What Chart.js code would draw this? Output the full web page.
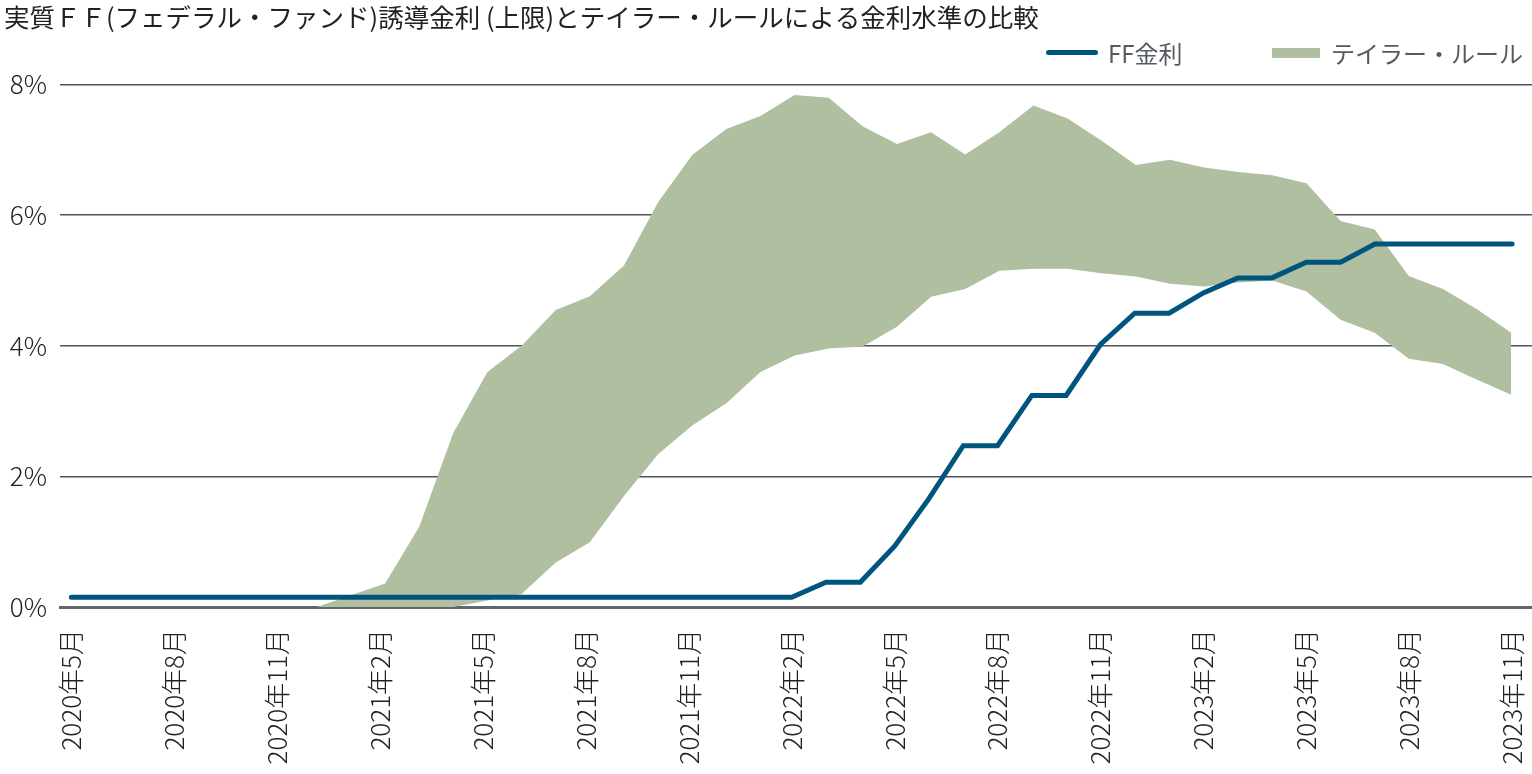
<!DOCTYPE html>
<html>
<head>
<meta charset="utf-8">
<script src="https://cdn.jsdelivr.net/npm/chart.js@4.4.0/dist/chart.umd.min.js"></script>
<style>
  body { margin: 0; background: #fff; }
  #wrap { position: relative; width: 1532px; height: 774px; }
  .legend { position: absolute; top: 37px; font-family: "Noto Sans CJK JP", sans-serif; font-size: 24px; color: #555a60; line-height: 32px; }
  .swatch { position: absolute; }
</style>
</head>
<body>
<div id="wrap">
  <canvas id="rateChart"></canvas>
  <div class="swatch" style="left:1046px; top:50px; width:52px; height:5px; background:#00557f; border-radius:3px;"></div>
  <div class="legend" style="left:1108px;">FF金利</div>
  <div class="swatch" style="left:1272px; top:48px; width:48px; height:10px; background:#b0bf9f;"></div>
  <div class="legend" style="left:1331px;">テイラー・ルール</div>
</div>
<script>
// months 2020年5月 .. 2023年11月
var months = ['2020年5月','2020年6月','2020年7月','2020年8月','2020年9月','2020年10月','2020年11月','2020年12月',
  '2021年1月','2021年2月','2021年3月','2021年4月','2021年5月','2021年6月','2021年7月','2021年8月','2021年9月','2021年10月','2021年11月','2021年12月',
  '2022年1月','2022年2月','2022年3月','2022年4月','2022年5月','2022年6月','2022年7月','2022年8月','2022年9月','2022年10月','2022年11月','2022年12月',
  '2023年1月','2023年2月','2023年3月','2023年4月','2023年5月','2023年6月','2023年7月','2023年8月','2023年9月','2023年10月','2023年11月'];

var tickLabels = ['2020年5月','2020年8月','2020年11月','2021年2月','2021年5月','2021年8月','2021年11月',
  '2022年2月','2022年5月','2022年8月','2022年11月','2023年2月','2023年5月','2023年8月','2023年11月'];

var ffRate = [0.15,0.15,0.15,0.15,0.15,0.15,0.15,0.15,0.15,0.15,0.15,0.15,0.15,0.15,0.15,0.15,0.15,0.15,0.15,0.15,
  0.15,0.15,0.38,0.38,0.93,1.66,2.47,2.47,3.24,3.24,4.02,4.50,4.50,4.81,5.04,5.04,5.28,5.28,5.56,5.56,5.56,5.56,5.56];

// テイラー・ルールのレンジ（下限・上限）
var taylorLow = [0,0,0,0,0,0,0,0,0,0,0,0,0.10,0.20,0.68,0.99,1.70,2.34,2.78,3.12,
  3.60,3.85,3.96,3.99,4.29,4.75,4.87,5.15,5.18,5.18,5.11,5.06,4.95,4.91,4.97,5.00,4.83,4.40,4.20,3.80,3.72,3.48,3.25];
var taylorHigh = [0,0,0,0,0,0,0,0,0.18,0.36,1.23,2.67,3.60,4.00,4.55,4.76,5.23,6.20,6.92,7.32,
  7.52,7.84,7.80,7.36,7.09,7.27,6.93,7.27,7.68,7.48,7.14,6.77,6.85,6.73,6.66,6.61,6.49,5.91,5.78,5.07,4.87,4.56,4.20];

var yTicks = [0, 2, 4, 6, 8];

function toPoints(arr) {
  return arr.map(function (v, i) { return { x: i, y: v }; });
}

function noEdgePadding(scale) {
  scale.paddingLeft = 0;
  scale.paddingRight = 0;
}

var font = '"Noto Sans CJK JP", "Noto Sans", sans-serif';

var ctx = document.getElementById('rateChart').getContext('2d');
var chart = new Chart(ctx, {
  type: 'line',
  data: {
    datasets: [
      {
        label: 'FF金利',
        data: toPoints(ffRate),
        borderColor: '#00557f',
        borderWidth: 5,
        borderCapStyle: 'round',
        borderJoinStyle: 'miter',
        pointRadius: 0,
        fill: false,
        order: 0
      },
      {
        label: 'low',
        data: toPoints(taylorLow),
        xAxisID: 'xb',
        borderWidth: 0,
        borderColor: 'rgba(0,0,0,0)',
        pointRadius: 0,
        fill: false,
        order: 1
      },
      {
        label: 'テイラー・ルール',
        data: toPoints(taylorHigh),
        xAxisID: 'xb',
        borderWidth: 0,
        borderColor: 'rgba(0,0,0,0)',
        backgroundColor: '#b0bf9f',
        pointRadius: 0,
        fill: 1,
        order: 1
      }
    ]
  },
  options: {
    responsive: true,
    maintainAspectRatio: false,
    animation: false,
    layout: { padding: { left: 4, right: 0, top: 0, bottom: 0 } },
    plugins: {
      legend: { display: false },
      tooltip: { enabled: false },
      title: {
        display: true,
        align: 'start',
        text: '実質ＦＦ(フェデラル・ファンド)誘導金利 (上限)とテイラー・ルールによる金利水準の比較',
        color: '#222',
        font: { family: font, size: 25.5, weight: 'normal', lineHeight: 1.2 },
        padding: { top: 2, bottom: 52 }
      }
    },
    scales: {
      x: {
        type: 'linear',
        min: -0.33,
        max: 42.58,
        z: 1,
        afterBuildTicks: function (axis) {
          axis.ticks = tickLabels.map(function (t) { return { value: months.indexOf(t) }; });
        },
        afterFit: function (scale) { scale.height = 167; noEdgePadding(scale); },
        grid: { display: false },
        border: { display: true, color: '#63676c', width: 3 },
        ticks: {
          autoSkip: false,
          maxRotation: 90,
          minRotation: 90,
          padding: 14,
          color: '#222',
          font: { family: font, size: 26, weight: 300 },
          callback: function (v) { return months[v]; }
        }
      },
      xb: {
        type: 'linear',
        display: false,
        min: -0.5275,
        max: 42.61
      },
      y: {
        min: 0,
        max: 8,
        afterBuildTicks: function (axis) {
          axis.ticks = yTicks.map(function (v) { return { value: v }; });
        },
        afterFit: function (scale) { scale.width = 56; },
        border: { display: false },
        grid: {
          color: function (c) { return c.tick.value === 0 ? 'rgba(0,0,0,0)' : '#50535a'; },
          lineWidth: 1.6,
          drawTicks: false
        },
        ticks: {
          padding: 13,
          color: '#222',
          font: { family: font, size: 26, weight: 300 },
          callback: function (v) { return v + '%'; }
        }
      }
    }
  }
});
</script>
</body>
</html>
